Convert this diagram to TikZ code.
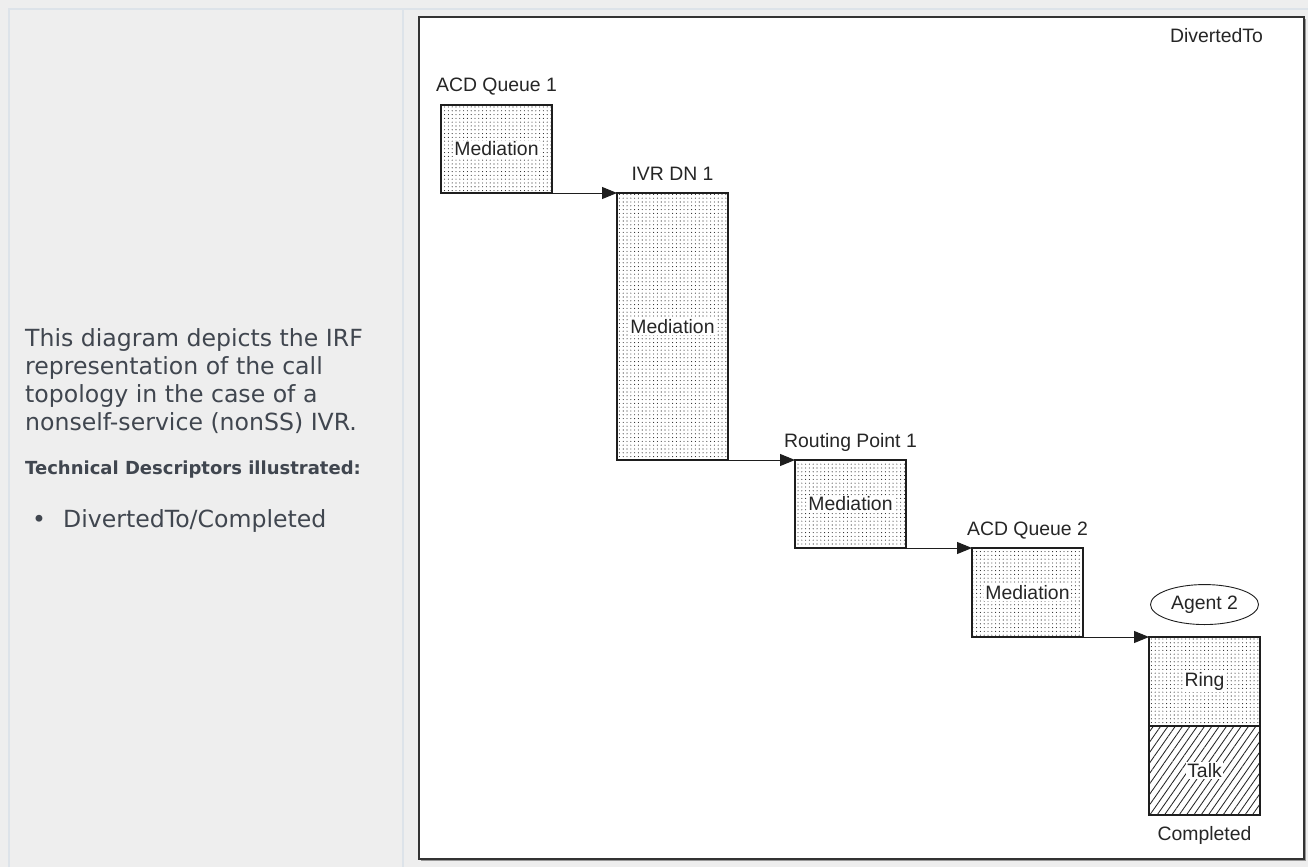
\documentclass[tikz,border=0pt]{standalone}
\usepackage{fontspec}
\setmainfont{Liberation Sans}
\newfontfamily\pagefont{DejaVu Sans}
\usepackage{tikz}
\usetikzlibrary{arrows.meta, positioning, shapes.geometric, patterns.meta}
\definecolor{pageGray}{RGB}{238,238,238}
\definecolor{cellLine}{RGB}{221,227,233}
\definecolor{pageText}{RGB}{64,70,79}
\definecolor{boxLine}{RGB}{30,30,30}

\tikzset{
    stage/.style={draw=boxLine, line width=1.3pt, minimum width=111pt, inner sep=0pt, outer sep=0pt, anchor=north west,
        pattern={Dots[distance=3.8pt, radius=0.55pt]}, pattern color=black!85},
    talkstage/.style={stage, pattern={Lines[angle=55, distance=6pt, line width=0.85pt]}},
    tag/.style={fill=white, inner sep=1pt, text=black!85, font=\fontsize{19.4}{22}\selectfont},
    dnlabel/.style={inner sep=0pt, text=black!85, font=\fontsize{19.4}{22}\selectfont},
    flow/.style={-{Triangle[length=15pt, width=12pt]}, line width=1pt, draw=boxLine},
    pagetext/.style={inner sep=0pt, align=left, text=pageText, font=\pagefont\fontsize{23.6}{28}\selectfont}
}

\begin{document}
\begin{tikzpicture}[x=1pt, y=-1pt]
    % page, table cells and frame
    \useasboundingbox (0,0) rectangle (1308,867);
    \fill[pageGray] (0,0) rectangle (1308,867);
    \draw[cellLine, line width=1.5pt] (9,867) -- (9,9) -- (1308,9);
    \draw[cellLine, line width=1.5pt] (403,9) -- (403,867);
    \draw[black!40, line width=1pt] (421,860.5) -- (1305.5,860.5) -- (1305.5,19);
    \draw[fill=white, draw=black!80, line width=1.2pt] (419,17) rectangle (1304,859);

    % description
    \node[pagetext, anchor=north west] (intro) at (25,328) {This diagram depicts the IRF\\representation of the call\\topology in the case of a\\nonself-service (nonSS) IVR.};
    \node[pagetext, anchor=base west, font=\pagefont\bfseries\fontsize{18}{22}\selectfont] (techhead) at (25,474.5) {Technical Descriptors illustrated:};
    \node[pagetext, anchor=base] (dot) at (39,527) {•};
    \node[pagetext, anchor=base west] (item) at (63,527) {DivertedTo/Completed};

    % call segments
    \node[dnlabel] (divto) at (1216.5,36) {DivertedTo};

    \node[stage, minimum height=88pt, label={[tag]center:Mediation}] (acd1) at (441,105) {};
    \node[stage, minimum height=267pt, label={[tag]center:Mediation}] (ivr1) at (617,193) {};
    \node[stage, minimum height=88pt, label={[tag]center:Mediation}] (rp1) at (795,460) {};
    \node[stage, minimum height=89pt, label={[tag]center:Mediation}] (acd2) at (972,548) {};
    \node[stage, minimum height=89pt, label={[tag]center:Ring}] (ring) at (1149,637) {};
    \node[talkstage, minimum height=89pt, label={[tag]center:Talk}] (talk) at (1149,726) {};

    \node[dnlabel, above=13pt of acd1.north, anchor=base] (acd1name) {ACD Queue 1};
    \node[dnlabel, above=13pt of ivr1.north, anchor=base] (ivr1name) {IVR DN 1};
    \node[dnlabel, above=13pt of rp1.north, anchor=base] (rp1name) {Routing Point 1};
    \node[dnlabel, above=13pt of acd2.north, anchor=base] (acd2name) {ACD Queue 2};
    \node[ellipse, draw=boxLine, line width=0.9pt, minimum width=108pt, minimum height=40pt, inner sep=0pt,
        text=black!85, font=\fontsize{19.4}{22}\selectfont, above=12pt of ring] (agent2) {Agent 2};
    \node[dnlabel, below=11pt of talk] (done) {Completed};

    % transfers
    \draw[flow] (acd1.south east) -- (ivr1.north west);
    \draw[flow] (ivr1.south east) -- (rp1.north west);
    \draw[flow] (rp1.south east) -- (acd2.north west);
    \draw[flow] (acd2.south east) -- (ring.north west);
\end{tikzpicture}
\end{document}
